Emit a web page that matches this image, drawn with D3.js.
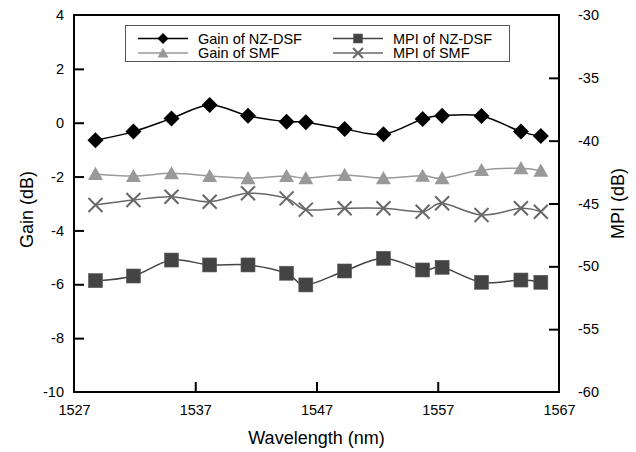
<!DOCTYPE html>
<html>
<head>
<meta charset="utf-8">
<script src="https://cdn.jsdelivr.net/npm/d3@7/dist/d3.min.js"></script>
<style>
  html, body { margin: 0; padding: 0; background: #fff; }
  svg { display: block; font-family: "Liberation Sans", Arial, sans-serif; }
</style>
</head>
<body>
<svg id="chart" width="636" height="452"></svg>
<script>
// ITU grid wavelengths (nm)
const wavelengths = [1528.77, 1531.90, 1535.04, 1538.19, 1541.35, 1544.53, 1546.12,
                     1549.32, 1552.52, 1555.75, 1557.36, 1560.61, 1563.86, 1565.50];

// Gain (dB), left axis
const gainNZDSF = [-0.65, -0.33, 0.16, 0.66, 0.26, 0.04, 0.02,
                   -0.23, -0.43, 0.14, 0.26, 0.25, -0.33, -0.49];
const gainSMF   = [-1.90, -1.98, -1.88, -1.98, -2.06, -1.98, -2.06,
                   -1.94, -2.06, -1.97, -2.06, -1.76, -1.69, -1.78];

// MPI (dB), right axis
const mpiNZDSF  = [-51.14, -50.77, -49.50, -49.89, -49.89, -50.55, -51.48,
                   -50.37, -49.36, -50.29, -50.08, -51.27, -51.09, -51.27];
const mpiSMF    = [-45.12, -44.72, -44.46, -44.86, -44.19, -44.59, -45.49,
                   -45.38, -45.38, -45.65, -44.98, -45.91, -45.38, -45.65];

const xTicks = [1527, 1537, 1547, 1557, 1567];
const gainTicks = [-10, -8, -6, -4, -2, 0, 2, 4];
const mpiTicks = [-60, -55, -50, -45, -40, -35, -30];

const FONT = "'Liberation Sans', Arial, sans-serif";
const svg = d3.select("#chart");
const L = 74, R = 559, T = 15, B = 392;

const x = d3.scaleLinear().domain([1527, 1567]).range([L, R]);
const yL = d3.scaleLinear().domain([-10, 4]).range([B, T]);
const yR = d3.scaleLinear().domain([-60, -30]).range([B, T]);

// plain hyphen-minus labels
const plain = d => String(d);

// marker shapes
const markers = {
  diamond: (g, s, c) => g.append("path")
      .attr("d", `M0,${-s}L${s},0L0,${s}L${-s},0Z`).attr("fill", c),
  square: (g, s, c) => g.append("rect")
      .attr("x", -s).attr("y", -s).attr("width", 2 * s).attr("height", 2 * s)
      .attr("fill", c).attr("stroke", "#5a5a5a").attr("stroke-width", 0.6),
  triangle: (g, s, c) => g.append("path")
      .attr("d", `M0,${-s * 0.95}L${s},${s * 0.8}L${-s},${s * 0.8}Z`).attr("fill", c),
  cross: (g, s, c) => g.append("path")
      .attr("d", `M${-s},${-s}L${s},${s}M${-s},${s}L${s},${-s}`)
      .attr("stroke", c).attr("stroke-width", 2).attr("fill", "none")
};

const series = [
  { name: "Gain of NZ-DSF", values: gainNZDSF, y: yL, color: "#000000", lineColor: "#000000", shape: "diamond", size: 8, lsize: 5.5 },
  { name: "MPI of NZ-DSF",  values: mpiNZDSF,  y: yR, color: "#444444", lineColor: "#444444", shape: "square",  size: 7, lsize: 4.5 },
  { name: "Gain of SMF",    values: gainSMF,   y: yL, color: "#999999", lineColor: "#999999", shape: "triangle", size: 7.5, lsize: 5.5 },
  { name: "MPI of SMF",     values: mpiSMF,    y: yR, color: "#686868", lineColor: "#686868", shape: "cross",   size: 7, lsize: 5 }
];

// draw order: lighter series first, black on top
const drawOrder = [2, 3, 1, 0];
drawOrder.forEach(i => {
  const s = series[i];
  const pts = wavelengths.map((w, k) => [x(w), s.y(s.values[k])]);
  svg.append("path")
    .attr("d", d3.line().curve(d3.curveCardinal.tension(0))(pts))
    .attr("fill", "none")
    .attr("stroke", s.lineColor)
    .attr("stroke-width", 1.5);
  pts.forEach(p => {
    const g = svg.append("g").attr("transform", `translate(${p[0]},${p[1]})`);
    markers[s.shape](g, s.size, s.color);
  });
});

// axes with inward ticks
const axisStyle = g => {
  g.select(".domain").remove();
  g.selectAll(".tick line").attr("stroke", "#000").attr("stroke-width", 2);
  g.selectAll(".tick text").attr("fill", "#000").style("font-size", "14.5px")
    .style("font-family", FONT);
};

svg.append("g").attr("transform", `translate(0,${B})`)
  .call(d3.axisBottom(x).tickValues(xTicks).tickFormat(plain)
    .tickSizeInner(-10).tickSizeOuter(0).tickPadding(13))
  .call(axisStyle)
  .call(g => g.selectAll(".tick line").filter(d => d === 1527 || d === 1567).remove());

svg.append("g").attr("transform", `translate(${L},0)`)
  .call(d3.axisLeft(yL).tickValues(gainTicks).tickFormat(plain)
    .tickSizeInner(-10).tickSizeOuter(0).tickPadding(10))
  .call(axisStyle)
  .call(g => g.selectAll(".tick line").filter(d => d === -10 || d === 4).remove());

svg.append("g").attr("transform", `translate(${R},0)`)
  .call(d3.axisRight(yR).tickValues(mpiTicks).tickFormat(plain)
    .tickSizeInner(-10).tickSizeOuter(0).tickPadding(19))
  .call(axisStyle)
  .call(g => g.selectAll(".tick line").filter(d => d === -60 || d === -30).remove());

// plot frame
svg.append("rect")
  .attr("x", L).attr("y", T).attr("width", R - L).attr("height", B - T)
  .attr("fill", "none").attr("stroke", "#000").attr("stroke-width", 2);

// axis titles
svg.append("text").attr("x", (L + R) / 2).attr("y", 444)
  .attr("text-anchor", "middle").style("font-size", "18px").style("font-family", FONT)
  .text("Wavelength (nm)");
svg.append("text").attr("transform", `translate(33,${(T + B) / 2 + 6}) rotate(-90)`)
  .attr("text-anchor", "middle").style("font-size", "18px").style("font-family", FONT)
  .text("Gain (dB)");
svg.append("text").attr("transform", `translate(624,${(T + B) / 2}) rotate(-90)`)
  .attr("text-anchor", "middle").style("font-size", "18px").style("font-family", FONT)
  .text("MPI (dB)");

// legend
const legend = svg.append("g");
legend.append("rect")
  .attr("x", 125.5).attr("y", 25.5).attr("width", 384).attr("height", 36)
  .attr("fill", "#fff").attr("stroke", "#555").attr("stroke-width", 1);
const legendPos = [
  { s: 0, lx: 138, ty: 38.5 }, { s: 1, lx: 333, ty: 38.5 },
  { s: 2, lx: 138, ty: 53 },   { s: 3, lx: 333, ty: 53 }
];
legendPos.forEach(p => {
  const s = series[p.s];
  legend.append("line")
    .attr("x1", p.lx).attr("x2", p.lx + 50).attr("y1", p.ty).attr("y2", p.ty)
    .attr("stroke", s.lineColor).attr("stroke-width", 1.5);
  const g = legend.append("g").attr("transform", `translate(${p.lx + 25},${p.ty})`);
  markers[s.shape](g, s.lsize, s.color);
  legend.append("text").attr("x", p.lx + 60).attr("y", p.ty + 5)
    .style("font-size", "14.5px").style("font-family", FONT).text(s.name);
});
</script>
</body>
</html>
